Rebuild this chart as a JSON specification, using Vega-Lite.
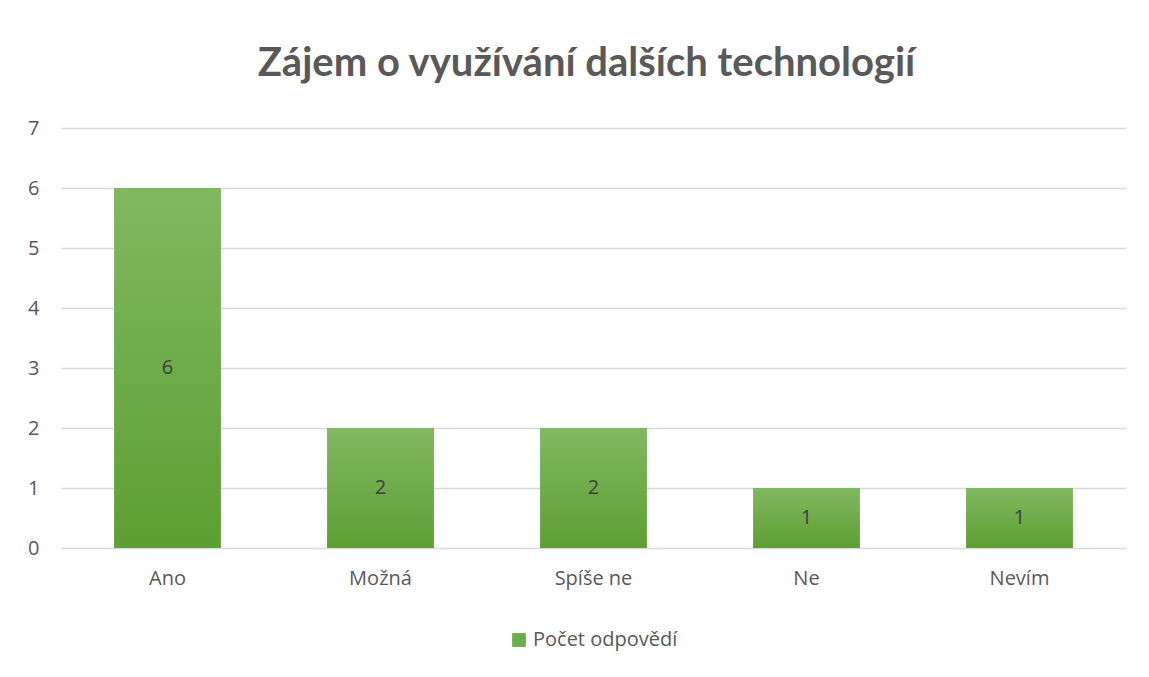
{
  "$schema": "https://vega.github.io/schema/vega-lite/v6.json",
  "width": 1065,
  "height": 420,
  "padding": {"left": 27, "top": 44, "right": 24, "bottom": 10},
  "background": "white",
  "config": {
    "view": {"stroke": null},
    "legend": {"layout": {"bottom": {"anchor": "middle"}}}
  },
  "title": {
    "text": "Zájem o využívání dalších technologií",
    "fontSize": 40,
    "font": "Lato",
    "fontWeight": "bold",
    "color": "#595959",
    "anchor": "middle",
    "dx": -7,
    "offset": 34
  },
  "data": {
    "values": [
      {"kategorie": "Ano", "pocet": 6, "serie": "Počet odpovědí"},
      {"kategorie": "Možná", "pocet": 2, "serie": "Počet odpovědí"},
      {"kategorie": "Spíše ne", "pocet": 2, "serie": "Počet odpovědí"},
      {"kategorie": "Ne", "pocet": 1, "serie": "Počet odpovědí"},
      {"kategorie": "Nevím", "pocet": 1, "serie": "Počet odpovědí"}
    ]
  },
  "encoding": {
    "x": {
      "field": "kategorie",
      "type": "nominal",
      "sort": null,
      "scale": {"paddingInner": 0.5, "paddingOuter": 0.25},
      "axis": {
        "title": null,
        "labelAngle": 0,
        "labelFontSize": 20,
        "labelFont": "Open Sans",
        "labelColor": "#595959",
        "labelPadding": 20,
        "domain": false,
        "ticks": false
      }
    }
  },
  "layer": [
    {
      "mark": {"type": "bar"},
      "encoding": {
        "y": {
          "field": "pocet",
          "type": "quantitative",
          "scale": {"domain": [0, 7]},
          "axis": {
            "title": null,
            "values": [0, 1, 2, 3, 4, 5, 6, 7],
            "format": "d",
            "labelFontSize": 20,
            "labelFont": "Open Sans",
            "labelColor": "#595959",
            "labelPadding": 22,
            "domain": false,
            "ticks": false,
            "gridColor": "#d9d9d9",
            "gridWidth": 1.5
          }
        },
        "color": {
          "field": "serie",
          "type": "nominal",
          "scale": {"range": ["#6eac49"]},
          "legend": {
            "title": null,
            "orient": "bottom",
            "direction": "horizontal",
            "symbolType": "square",
            "symbolSize": 190,
            "symbolStrokeWidth": 0,
            "labelFontSize": 20,
            "labelFont": "Open Sans",
            "labelColor": "#595959",
            "labelOffset": 4,
            "offset": 42
          }
        }
      }
    },
    {
      "mark": {
        "type": "bar",
        "fill": {
          "gradient": "linear",
          "x1": 0, "y1": 0, "x2": 0, "y2": 1,
          "stops": [
            {"offset": 0, "color": "#81b861"},
            {"offset": 1, "color": "#5d9f32"}
          ]
        }
      },
      "encoding": {
        "y": {"field": "pocet", "type": "quantitative"}
      }
    },
    {
      "transform": [{"calculate": "datum.pocet / 2", "as": "stred"}],
      "mark": {"type": "text", "fontSize": 20, "font": "Open Sans", "color": "#404040", "baseline": "middle"},
      "encoding": {
        "y": {"field": "stred", "type": "quantitative"},
        "text": {"field": "pocet", "type": "quantitative"}
      }
    }
  ]
}
